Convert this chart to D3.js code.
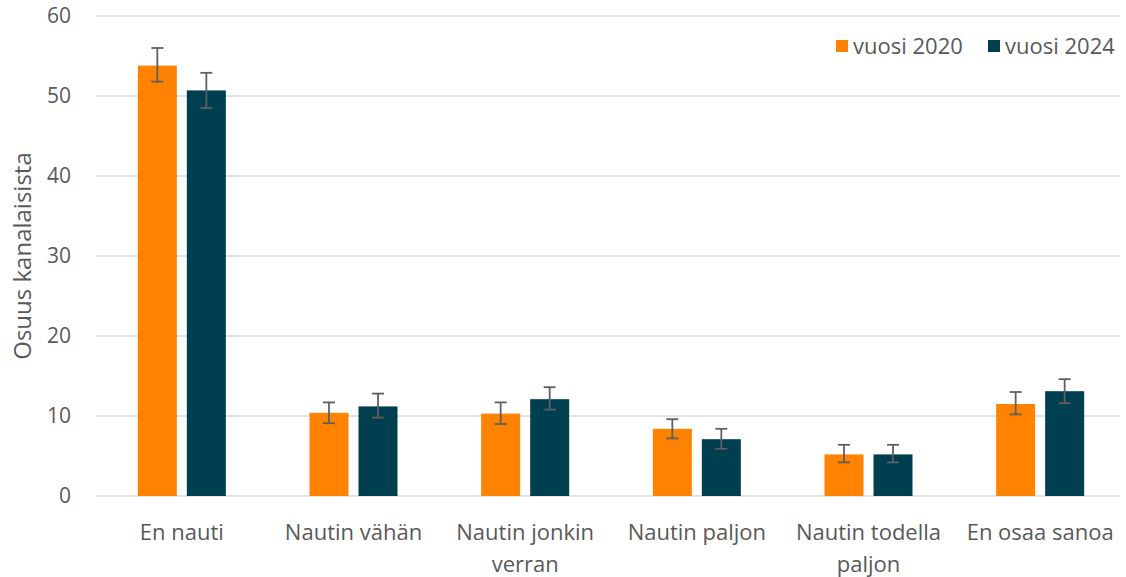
<!DOCTYPE html>
<html>
<head>
<meta charset="utf-8">
<script src="https://cdn.jsdelivr.net/npm/d3@7"></script>
<style>
  body { margin: 0; background: #fff; }
  text { font-family: "Open Sans", "Noto Sans", sans-serif; fill: #595959; }
</style>
</head>
<body>
<svg id="chart" width="1126" height="577"></svg>
<script>
// categories (split into lines as in the picture)
var categories = ["En nauti", "Nautin vähän", "Nautin jonkin|verran", "Nautin paljon", "Nautin todella|paljon", "En osaa sanoa"];
var seriesNames = ["vuosi 2020", "vuosi 2024"];
var colors = ["#FF8200", "#003F4F"];

// values and error bar ranges
var values2020 = [53.8, 10.4, 10.3, 8.4, 5.2, 11.5];
var low2020    = [51.8, 9.1, 9.0, 7.2, 4.2, 10.2];
var high2020   = [56.0, 11.7, 11.7, 9.6, 6.4, 13.0];
var values2024 = [50.7, 11.2, 12.1, 7.1, 5.2, 13.1];
var low2024    = [48.5, 9.8, 10.8, 5.9, 4.2, 11.6];
var high2024   = [52.9, 12.8, 13.6, 8.4, 6.4, 14.6];
var yTicks = [0, 10, 20, 30, 40, 50, 60];

var svg = d3.select("#chart");

var plotLeft = 96, plotRight = 1126, plotTop = 16, plotBottom = 496;

var x = d3.scaleBand().domain(d3.range(categories.length)).range([plotLeft, plotRight]);
var x1 = d3.scaleBand().domain([0, 1]).range([x.bandwidth() / 2 - 44, x.bandwidth() / 2 + 44]).paddingInner(0.204);
var y = d3.scaleLinear().domain([0, 60]).range([plotBottom, plotTop]);

// gridlines
svg.append("g").selectAll("line")
    .data(yTicks)
    .enter().append("line")
    .attr("x1", plotLeft).attr("x2", 1120)
    .attr("y1", function(d) { return y(d); })
    .attr("y2", function(d) { return y(d); })
    .attr("stroke", "#d9d9d9")
    .attr("stroke-width", 1.5);

// y tick labels
svg.append("g").selectAll("text")
    .data(yTicks)
    .enter().append("text")
    .attr("x", 71)
    .attr("y", function(d) { return y(d); })
    .attr("dy", "0.35em")
    .attr("text-anchor", "end")
    .style("font-size", "21px")
    .text(function(d) { return d; });

// y axis title
svg.append("text")
    .attr("transform", "translate(31,256) rotate(-90)")
    .attr("text-anchor", "middle")
    .style("font-size", "24px")
    .text("Osuus kanalaisista");

var series = [
    { values: values2020, low: low2020, high: high2020 },
    { values: values2024, low: low2024, high: high2024 }
];

series.forEach(function(s, si) {
    var g = svg.append("g");
    g.selectAll("rect")
        .data(s.values)
        .enter().append("rect")
        .attr("x", function(d, i) { return x(i) + x1(si); })
        .attr("y", function(d) { return y(d); })
        .attr("width", x1.bandwidth())
        .attr("height", function(d) { return y(0) - y(d); })
        .attr("fill", colors[si]);

    // error bars
    s.values.forEach(function(d, i) {
        var cx = x(i) + x1(si) + x1.bandwidth() / 2;
        var eg = svg.append("g").attr("stroke", "#5f5f5f").attr("stroke-width", 1.8);
        eg.append("line").attr("x1", cx).attr("x2", cx).attr("y1", y(s.low[i])).attr("y2", y(s.high[i]));
        eg.append("line").attr("x1", cx - 6).attr("x2", cx + 6).attr("y1", y(s.low[i])).attr("y2", y(s.low[i]));
        eg.append("line").attr("x1", cx - 6).attr("x2", cx + 6).attr("y1", y(s.high[i])).attr("y2", y(s.high[i]));
    });
});

// x labels
categories.forEach(function(c, i) {
    var lines = c.split("|");
    var t = svg.append("text")
        .attr("x", x(i) + x.bandwidth() / 2)
        .attr("y", 540)
        .attr("text-anchor", "middle")
        .style("font-size", "22px");
    lines.forEach(function(l, j) {
        t.append("tspan")
            .attr("x", x(i) + x.bandwidth() / 2)
            .attr("dy", j === 0 ? 0 : 32)
            .text(l);
    });
});

// legend
var legendX = [836, 988];
seriesNames.forEach(function(n, i) {
    svg.append("rect")
        .attr("x", legendX[i]).attr("y", 40)
        .attr("width", 12).attr("height", 12)
        .attr("fill", colors[i]);
    svg.append("text")
        .attr("x", legendX[i] + 17).attr("y", 46)
        .attr("dy", "0.35em")
        .style("font-size", "22px")
        .text(n);
});
</script>
</body>
</html>
